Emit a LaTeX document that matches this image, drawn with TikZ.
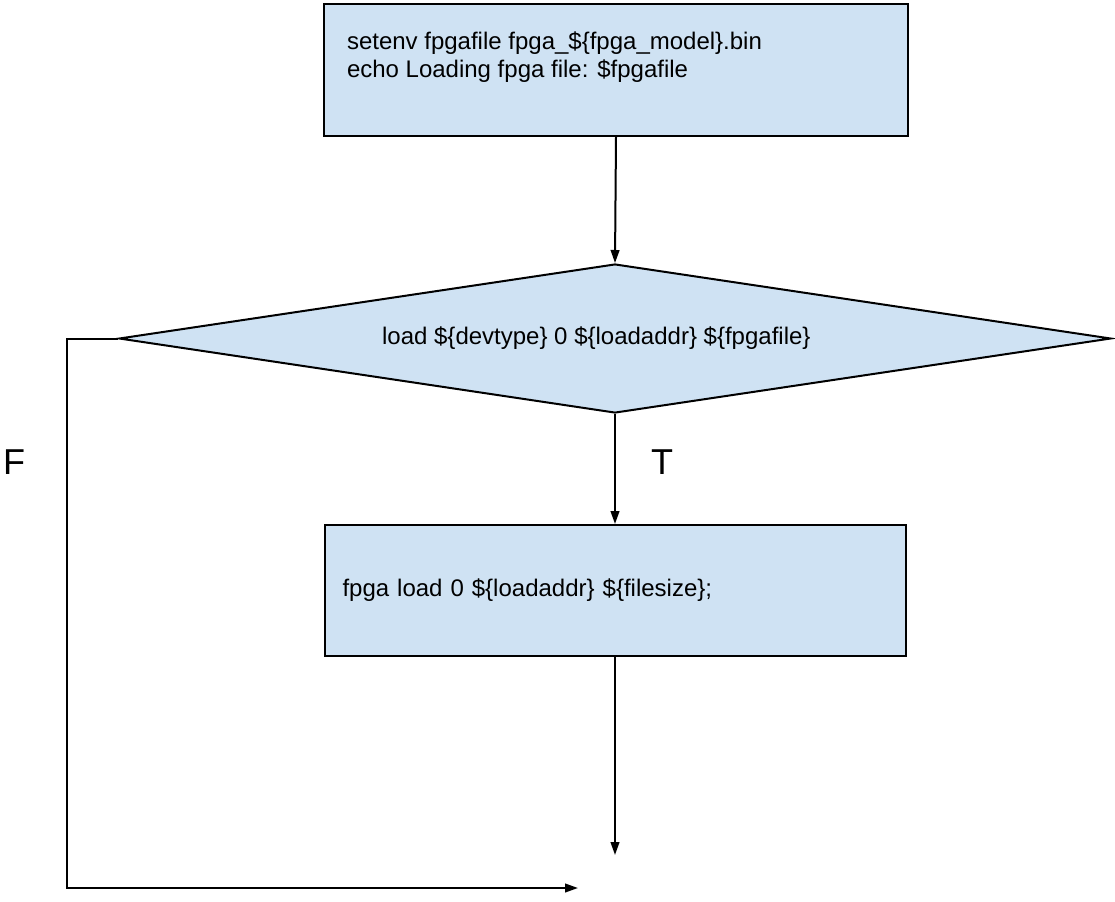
\documentclass[tikz,border=0pt]{standalone}
\usepackage{fontspec}
\setmainfont{Liberation Sans}
\definecolor{boxblue}{HTML}{CFE2F3}
\usetikzlibrary{arrows.meta, shapes.geometric, positioning}

\begin{document}
\begin{tikzpicture}[
  x=0.75pt, y=-0.75pt,
  procbox/.style={draw=black, fill=boxblue, line width=1.5pt,
    font=\fontsize{18}{21}\selectfont, inner ysep=0pt},
  decision/.style={diamond, aspect=6.67, draw=black, fill=boxblue, line width=1.5pt,
    minimum width=744pt, minimum height=111.75pt, inner sep=0pt,
    font=\fontsize{18}{21}\selectfont},
  flow/.style={line width=1.5pt, -{Triangle[length=9.75pt, width=6.5pt]}},
  branch/.style={font=\fontsize{27}{30}\selectfont, inner sep=0pt},
]
  \useasboundingbox (0,0) rectangle (1115,901);

  % setenv box
  \node[procbox, anchor=north west, inner xsep=17.25pt] (setenv) at (323,3)
    {\parbox[c][99pt][t]{403.5pt}{\vspace*{21pt}setenv fpgafile fpga\_\$\{fpga\_model\}.bin\\
      echo Loading fpga file: \$fpgafile}};
  % load test
  \node[decision] (check) at (615,338.5)
    {load \$\{devtype\} 0 \$\{loadaddr\} \$\{fpgafile\}\hspace*{28pt}};
  % fpga load
  \node[procbox, inner xsep=13.5pt, text width=408.75pt, align=left,
    minimum height=98.25pt] (fpgaload) at (615,590.5)
    {fpga load 0 \$\{loadaddr\} \$\{filesize\};};

  \coordinate (done) at (615,855);
  \coordinate (fcorner) at (67,888);
  \coordinate (fend) at (578,888);

  \draw[flow] (setenv.south) -- (check.north);
  \draw[flow] (check.south) -- (fpgaload.north);
  \draw[flow] (fpgaload.south) -- (done);
  \draw[flow] (check.west) -| (fcorner) -- (fend);

  \node[branch] (tlabel) at (662,462) {T};
  \node[branch] (flabel) at (14,462) {F};
\end{tikzpicture}
\end{document}
